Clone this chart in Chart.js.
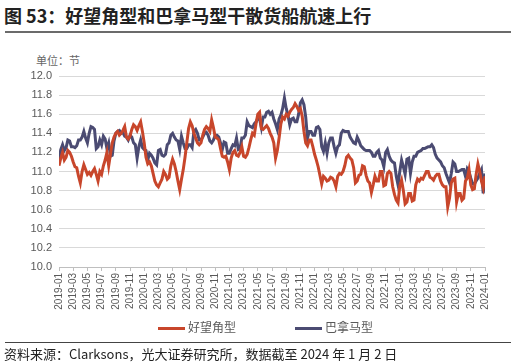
<!DOCTYPE html>
<html>
<head>
<meta charset="utf-8">
<script src="https://cdn.jsdelivr.net/npm/chart.js@4.4.1/dist/chart.umd.min.js"></script>
<style>
  body { margin: 0; width: 516px; height: 364px; background: #fff; position: relative; overflow: hidden;
         font-family: 'Liberation Sans', 'Noto Sans CJK SC', sans-serif; }
  .title { position: absolute; left: 4px; top: 2px; font-size: 18px; font-weight: bold; color: #222;
           font-family: 'Noto Sans CJK SC', sans-serif; }
  .rule_top { position: absolute; left: 5px; top: 31px; width: 506px; height: 2px; background: #6b6b6b; }
  .unit { position: absolute; left: 36px; top: 52px; font-size: 11px; color: #666;
          font-family: 'Noto Sans CJK SC', sans-serif; }
  .chart_box { position: absolute; left: 0; top: 62px; width: 516px; height: 260px; }
  .legend { position: absolute; top: 318px; font-size: 12px; color: #595959; line-height: 18px;
            font-family: 'Noto Sans CJK SC', sans-serif; }
  .legend span { display: inline-block; width: 27px; height: 3px; vertical-align: middle; margin-right: 3px; }
  .rule_bottom { position: absolute; left: 5px; top: 342px; width: 506px; height: 1px; background: #444; }
  .source { position: absolute; left: 4px; top: 344px; font-size: 13px; color: #222;
            font-family: 'Noto Sans CJK SC', sans-serif; }
</style>
</head>
<body>
<div class="title">图 53：好望角型和巴拿马型干散货船航速上行</div>
<div class="rule_top"></div>
<div class="unit">单位：节</div>
<div class="chart_box"><canvas id="speed_chart"></canvas></div>
<div class="legend" id="legend_cape" style="left:158px"><span></span></div>
<div class="legend" id="legend_pana" style="left:295px"><span></span></div>
<div class="rule_bottom"></div>
<div class="source">资料来源：Clarksons，光大证券研究所，数据截至 2024 年 1 月 2 日</div>
<script>
const tick_labels = [
  '2019-01', '2019-03', '2019-05', '2019-07', '2019-09', '2019-11',
  '2020-01', '2020-03', '2020-05', '2020-07', '2020-09', '2020-11',
  '2021-01', '2021-03', '2021-05', '2021-07', '2021-09', '2021-11',
  '2022-01', '2022-03', '2022-05', '2022-07', '2022-09', '2022-11',
  '2023-01', '2023-03', '2023-05', '2023-07', '2023-09', '2023-11',
  '2024-01'
];

// roughly weekly readings (quarter-month steps), one row = two months
const capesize = [
  11.06, 11.14, 11.20, 11.12, 11.15, 11.22, 11.20, 11.16,
  11.10, 11.05, 11.04, 10.95, 10.88, 11.00, 11.07, 11.02,
  10.97, 10.99, 10.96, 11.00, 11.03, 10.97, 10.90, 11.00,
  10.97, 11.06, 11.12, 11.20, 11.06, 11.18, 11.30, 11.36,
  11.40, 11.42, 11.38, 11.40, 11.43, 11.47, 11.36, 11.34,
  11.37, 11.44, 11.49, 11.47, 11.43, 11.48, 11.52, 11.42,
  11.30, 11.15, 11.08, 11.10, 11.06, 10.98, 10.90, 10.86,
  10.84, 10.88, 10.92, 11.00, 10.97, 10.92, 10.94, 11.06,
  11.13, 11.08, 11.00, 10.90, 10.81, 10.92, 11.02, 11.15,
  11.30, 11.45, 11.52, 11.48, 11.40, 11.35, 11.30, 11.28,
  11.30, 11.38, 11.44, 11.47, 11.45, 11.42, 11.54, 11.46,
  11.36, 11.35, 11.33, 11.24, 11.16, 11.15, 11.16, 11.10,
  11.02, 11.14, 11.20, 11.22, 11.17, 11.16, 11.20, 11.26,
  11.16, 11.15, 11.18, 11.25, 11.33, 11.40, 11.38, 11.50,
  11.60, 11.62, 11.45, 11.44, 11.46, 11.48, 11.45, 11.40,
  11.36, 11.30, 11.14, 11.22, 11.35, 11.50, 11.57, 11.55,
  11.60, 11.58, 11.62, 11.65, 11.67, 11.71, 11.68, 11.64,
  11.66, 11.58, 11.42, 11.30, 11.27, 11.33, 11.33, 11.26,
  11.18, 11.12, 11.05, 10.96, 10.87, 10.95, 10.93, 10.90,
  10.91, 10.94, 10.93, 10.90, 10.84, 10.95, 10.98, 10.97,
  11.00, 11.06, 11.15, 11.17, 11.14, 11.12, 11.04, 10.88,
  10.90, 10.96, 10.97, 11.06, 11.05, 10.96, 10.90, 10.88,
  10.78, 10.86, 10.95, 10.90, 10.90, 11.00, 11.00, 10.85,
  10.86, 10.98, 11.00, 10.98, 10.84, 10.76, 10.70, 10.67,
  10.85, 10.91, 10.80, 10.66, 10.68, 10.77, 10.77, 10.69,
  10.70, 10.86, 10.92, 10.90, 10.93, 10.92, 10.96, 11.00,
  11.00, 10.94, 10.93, 10.91, 10.95, 10.97, 10.97, 10.90,
  10.86, 10.84, 10.84, 10.63, 10.72, 10.88, 10.92, 10.93,
  10.68, 10.77, 10.77, 10.70, 10.72, 10.90, 10.93, 11.02,
  10.86, 10.81, 10.82, 10.97, 11.08, 11.00, 10.90, 10.83,
  10.95
];

const panamax = [
  11.12, 11.23, 11.28, 11.22, 11.25, 11.33, 11.32, 11.26,
  11.26, 11.25, 11.27, 11.33, 11.33, 11.36, 11.42, 11.35,
  11.30, 11.40, 11.47, 11.46, 11.44, 11.24, 11.26, 11.33,
  11.28, 11.37, 11.34, 11.24, 11.30, 11.16, 11.17, 11.32,
  11.40, 11.42, 11.43, 11.40, 11.41, 11.37, 11.36, 11.33,
  11.38, 11.36, 11.30, 11.28, 11.14, 11.26, 11.33, 11.25,
  11.23, 11.22, 11.12, 11.19, 11.17, 11.14, 11.09, 11.07,
  11.22, 11.23, 11.17, 11.16, 11.18, 11.28, 11.30, 11.38,
  11.40, 11.36, 11.33, 11.32, 11.23, 11.37, 11.30, 11.24,
  11.24, 11.28, 11.28, 11.25, 11.42, 11.44, 11.40, 11.33,
  11.33, 11.36, 11.40, 11.41, 11.38, 11.32, 11.30, 11.33,
  11.38, 11.38, 11.36, 11.30, 11.23, 11.31, 11.30, 11.19,
  11.19, 11.24, 11.28, 11.27, 11.35, 11.23, 11.24, 11.35,
  11.35, 11.38, 11.52, 11.48, 11.47, 11.46, 11.50, 11.52,
  11.56, 11.55, 11.46, 11.57, 11.57, 11.62, 11.63, 11.60,
  11.62, 11.55, 11.50, 11.44, 11.55, 11.59, 11.66, 11.77,
  11.66, 11.59, 11.49, 11.55, 11.56, 11.52, 11.52, 11.60,
  11.72, 11.75, 11.70, 11.57, 11.35, 11.42, 11.42, 11.38,
  11.38, 11.46, 11.47, 11.44, 11.26, 11.21, 11.30, 11.19,
  11.30, 11.35, 11.35, 11.26, 11.19, 11.26, 11.28, 11.40,
  11.43, 11.42, 11.42, 11.42, 11.36, 11.33, 11.30, 11.29,
  11.36, 11.32, 11.27, 11.25, 11.23, 11.22, 11.22, 11.22,
  11.20, 11.16, 11.16, 11.20, 11.22, 11.14, 11.12, 11.05,
  11.20, 11.23, 11.16, 11.12, 11.10, 11.09, 10.95, 10.86,
  11.00, 11.12, 11.05, 10.97, 11.13, 11.14, 10.98, 11.10,
  11.16, 11.16, 11.20, 11.21, 11.22, 11.24, 11.24, 11.25,
  11.26, 11.26, 11.28, 11.25, 11.18, 11.14, 11.12, 11.10,
  11.06, 11.04, 10.98, 10.93, 10.88, 10.98, 11.10, 11.08,
  11.00, 11.00, 11.01, 11.02, 11.02, 10.95, 11.03, 11.00,
  10.93, 10.87, 10.87, 10.90, 10.93, 10.98, 11.02, 10.77,
  10.98
];

const series_names = ['好望角型', '巴拿马型'];
const series_colors = ['#c8462b', '#4b4b72'];

function to_points (values) {
  // x counts months from 2019-01, four readings per month
  return values.map((v, i) => ({ x: i / 4, y: v }));
}

// legend built as plain html so the item spacing matches
document.querySelectorAll('.legend').forEach((el, i) => {
  el.querySelector('span').style.background = series_colors[i];
  el.appendChild(document.createTextNode(series_names[i]));
});

const ctx = document.getElementById('speed_chart').getContext('2d');

new Chart(ctx, {
  type: 'line',
  data: {
    datasets: [{
      label: series_names[0],
      data: to_points(capesize),
      borderColor: series_colors[0],
      borderWidth: 3,
      pointRadius: 0,
      tension: 0
    }, {
      label: series_names[1],
      data: to_points(panamax),
      borderColor: series_colors[1],
      borderWidth: 3,
      pointRadius: 0,
      tension: 0
    }]
  },
  options: {
    responsive: true,
    maintainAspectRatio: false,
    animation: false,
    events: [],
    layout: {
      padding: { top: 14, right: 31, left: 0, bottom: 5 }
    },
    scales: {
      x: {
        type: 'linear',
        min: 0,
        max: 60,
        afterFit: function (scale) { scale.height = 50; },
        ticks: {
          stepSize: 2,
          autoSkip: false,
          maxRotation: 90,
          minRotation: 90,
          padding: 2,
          color: '#595959',
          font: { size: 10, family: "'Liberation Sans', sans-serif" },
          callback: function (value) { return tick_labels[value / 2]; }
        },
        grid: {
          drawOnChartArea: false,
          drawTicks: true,
          tickLength: 4,
          color: '#bfbfbf'
        },
        border: { color: '#bfbfbf' }
      },
      y: {
        min: 10,
        max: 12,
        afterFit: function (scale) { scale.width = 59; },
        ticks: {
          stepSize: 0.2,
          padding: 7,
          color: '#595959',
          font: { size: 11, family: "'Liberation Sans', sans-serif" },
          callback: function (value) { return value.toFixed(1); }
        },
        grid: {
          drawTicks: false,
          color: '#d9d9d9'
        },
        border: { display: false }
      }
    },
    plugins: {
      legend: { display: false },
      tooltip: { enabled: false }
    }
  }
});
</script>
</body>
</html>
